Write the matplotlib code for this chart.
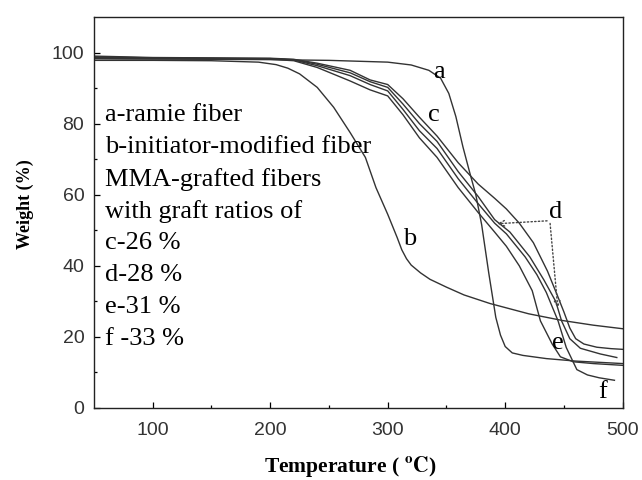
import matplotlib
matplotlib.use("Agg")
import matplotlib.pyplot as plt

plt.rcParams['mathtext.fontset'] = 'stix'

# TGA curves (temperature in C, weight in %)
t_a = [50, 100, 150, 200, 250, 300, 320, 335, 345, 352, 358, 364, 370, 375, 380, 386, 392, 396, 400, 406, 415, 435, 460, 500]
w_a = [98.3, 98.2, 98.1, 98.0, 97.8, 97.3, 96.5, 95.0, 92.8, 88.5, 82.0, 73.5, 66.0, 60.0, 51.5, 38.0, 25.5, 20.5, 17.3, 15.5, 14.8, 13.9, 13.2, 12.5]

t_b = [50, 100, 150, 190, 205, 215, 225, 240, 254, 268, 281, 290, 300, 308, 312, 316, 320, 328, 336, 350, 365, 387, 420, 449, 475, 500]
w_b = [97.8, 97.8, 97.7, 97.3, 96.6, 95.6, 94.0, 90.2, 84.6, 77.5, 70.5, 62.0, 54.5, 48.0, 44.5, 42.0, 40.2, 38.0, 36.2, 34.0, 31.8, 29.4, 26.5, 24.6, 23.3, 22.3]

t_c = [50, 100, 150, 200, 220, 240, 268, 285, 300, 313, 327, 342, 360, 377, 391, 401, 412, 424, 436, 444, 450, 455, 460, 467, 478, 490, 500]
w_c = [99.0, 98.6, 98.5, 98.4, 98.1, 97.0, 95.0, 92.3, 91.0, 87.0, 81.8, 76.5, 69.0, 63.0, 59.0, 56.0, 52.0, 46.5, 38.5, 32.0, 27.0, 22.5, 19.5, 18.0, 17.1, 16.7, 16.5]

t_d = [50, 100, 150, 200, 220, 240, 268, 285, 300, 313, 327, 342, 360, 377, 391, 404, 421, 433, 443, 448, 455, 464, 481, 495]
w_d = [98.8, 98.5, 98.4, 98.3, 98.0, 96.7, 94.3, 91.8, 90.2, 85.5, 80.0, 75.0, 66.5, 59.5, 53.0, 49.5, 42.5, 36.0, 30.0, 24.5, 19.5, 16.8, 15.2, 14.2]

t_e = [50, 100, 150, 200, 220, 240, 268, 285, 300, 313, 327, 342, 360, 377, 391, 401, 412, 423, 430, 440, 447, 458, 475, 500]
w_e = [98.3, 98.2, 98.2, 98.1, 97.7, 95.8, 92.0, 89.5, 87.8, 82.5, 76.0, 70.5, 62.0, 55.0, 49.5, 45.5, 40.0, 33.0, 24.5, 18.0, 14.4, 13.0, 12.5, 12.0]

t_f = [50, 100, 150, 200, 220, 240, 268, 285, 300, 313, 327, 342, 360, 377, 391, 401, 417, 427, 435, 445, 452, 461, 470, 480, 493]
w_f = [98.6, 98.4, 98.3, 98.2, 97.9, 96.3, 93.5, 91.0, 89.2, 84.0, 78.0, 73.0, 64.5, 57.5, 52.0, 49.0, 42.5, 37.5, 32.5, 24.5, 17.0, 10.8, 9.3, 8.5, 7.8]

curves = [(t_a, w_a), (t_b, w_b), (t_c, w_c), (t_d, w_d), (t_e, w_e), (t_f, w_f)]

# curve letters placed next to the lines
letters = ['a', 'b', 'c', 'd', 'e', 'f']
letter_x = [344, 319, 339, 443, 445, 483]
letter_y = [94.4, 47.6, 82.3, 55.0, 18.2, 4.5]

legend_lines = ['a-ramie fiber', 'b-initiator-modified fiber', 'MMA-grafted fibers',
                'with graft ratios of', 'c-26 %', 'd-28 %', 'e-31 %', 'f -33 %']

fig = plt.figure(figsize=(6.42, 4.80), dpi=100)
ax = fig.add_axes([0.1464, 0.150, 0.8235, 0.8146])

for t, w in curves:
    ax.plot(t, w, color='#333333', linewidth=1.0)

for s, x, y in zip(letters, letter_x, letter_y):
    ax.text(x, y, s, fontsize=19, family='Liberation Serif', ha='center', va='center')

# dotted pointers for curve d
ax.annotate('', xy=(391, 51.8), xytext=(438, 52.7),
            arrowprops=dict(arrowstyle='->', linestyle=':', color='#444444', lw=1.0))
ax.annotate('', xy=(445, 27.4), xytext=(438, 52.7),
            arrowprops=dict(arrowstyle='->', linestyle=':', color='#444444', lw=1.0))

for i, s in enumerate(legend_lines):
    ax.text(59, 82.3 - i * 8.97, s, fontsize=19, family='Liberation Serif', ha='left', va='center')

ax.set_xlim(50, 500)
ax.set_ylim(0, 110)
ax.set_xticks([100, 200, 300, 400, 500])
ax.set_xticks([150, 250, 350, 450], minor=True)
ax.set_yticks([0, 20, 40, 60, 80, 100])
ax.set_yticks([10, 30, 50, 70, 90], minor=True)
ax.tick_params(which='both', direction='in', labelsize=14)
ax.tick_params(which='major', length=4.5, width=0.9)
ax.tick_params(which='minor', length=2.5, width=0.9)
for lab in ax.get_xticklabels() + ax.get_yticklabels():
    lab.set_family('Liberation Sans')
    lab.set_color('#333333')
ax.tick_params(axis='x', pad=10)
ax.tick_params(axis='y', pad=7)

ax.set_xlabel(r'Temperature ( $\mathbf{^{o}C}$)', fontsize=15.5, fontweight='bold',
              family='Liberation Serif')
ax.xaxis.set_label_coords(0.485, -0.12)
ax.set_ylabel('Weight (%)', fontsize=13, fontweight='bold', family='Liberation Serif')
ax.yaxis.set_label_coords(-0.113, 0.522)

for sp in ax.spines.values():
    sp.set_linewidth(1.0)
    sp.set_color('#222222')

fig.savefig('out.png', dpi=100)
